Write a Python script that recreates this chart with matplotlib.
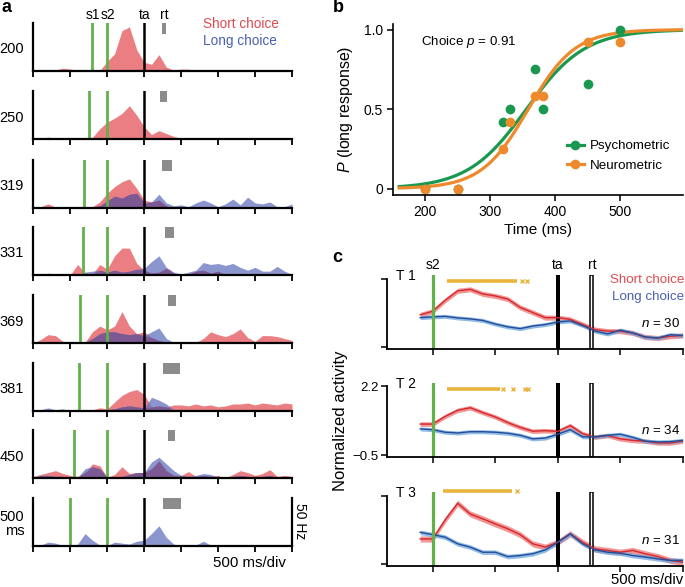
import numpy as np
import matplotlib
matplotlib.use('Agg')
import matplotlib.pyplot as plt
from matplotlib.lines import Line2D

plt.rcParams['font.family'] = ['Liberation Sans', 'DejaVu Sans']
plt.rcParams['mathtext.fontset'] = 'custom'
plt.rcParams['mathtext.rm'] = 'Liberation Sans'
plt.rcParams['mathtext.it'] = 'Liberation Sans:italic'

W, H = 685, 587

# ---------------- panel a: single-neuron PSTHs (Hz), s2 at 0 ms ----------------
t_a = np.arange(-1000, 2501, 100)
intervals = [200, 250, 319, 331, 369, 381, 450, 500]
rt_on = [735, 712, 735, 780, 816, 748, 824, 752]
rt_off = [802, 811, 870, 901, 928, 982, 911, 992]

short_200 = [0, 0, 0, 1, 3, 2, 1, 0, 0, 0.5, 10, 18, 42, 46, 22, 9, 7, 17, 4, 1,
             2, 2, 0, 0, 0, 0, 0, 0, 0, 0, 0, 0, 0, 0, 0, 0]
short_250 = [0, 0, 2.5, 0.5, 0, 0.5, 1.5, 0, 2, 11, 18, 22, 27, 35, 25, 13, 5, 9, 6, 3,
             1, 0.5, 0.5, 1, 0.5, 0, 0, 0, 0, 0, 0.5, 0, 0, 0, 0, 0]
short_319 = [0, 1, 4, 0.5, 0, 0, 0.5, 0.5, 1, 6, 15, 22, 27, 30, 20, 8, 6, 8, 2, 0,
             0, 0, 0, 0, 0, 0, 0, 0, 0, 0, 0, 0, 0, 0, 0, 0]
long_319 = [0, 0, 0, 0, 0.5, 1, 0, 0, 0.5, 2, 7, 12, 10, 14, 15, 5, 6, 14, 5, 2,
            3, 1, 5, 8, 5, 1, 4, 9, 3, 11, 5, 4, 6, 1, 1, 4]
short_331 = [0, 0, 2, 1, 0.5, 0, 11, 2, 1, 11, 6, 20, 28, 28, 12, 5, 2, 3, 7, 2,
             0.5, 1, 4, 5, 2, 4, 0, 0, 0, 0, 0, 0, 0, 0, 0, 0]
long_331 = [0, 0, 0, 0, 0, 0.5, 0, 3, 4, 5, 3, 5, 3, 4, 6, 7, 14, 20, 8, 3,
            1, 3, 5, 13, 11, 12, 10, 12, 8, 5, 8, 4, 4, 9, 4, 0.5]
short_369 = [0, 4, 9, 8, 2, 0.5, 0.5, 1, 12, 18, 14, 18, 33, 18, 10, 12, 6, 3, 1, 0.5,
             0.5, 0, 1, 5, 12, 9, 7, 10, 15, 6, 2, 8, 8, 7, 5, 3]
long_369 = [0, 0, 0, 0, 0, 0, 0, 1, 5, 10, 12, 12, 10, 9, 10, 8, 12, 16, 5, 1,
            0.5, 2, 0.5, 0, 0, 0, 0, 0, 0, 0, 0, 0, 0, 0, 0, 0]
short_381 = [0, 0, 0, 0, 0, 0, 0, 0, 1, 3, 2, 9, 16, 20, 22, 17, 4, 5, 4, 6,
             6, 5, 7, 5, 6, 4, 5, 7, 7, 8, 6, 8, 7, 6, 8, 7]
long_381 = [0, 1, 3, 1, 2, 0, 0, 0, 0, 0, 1, 2, 4, 5, 4, 3, 14, 11, 7, 1,
            0, 0, 0, 0, 0, 0, 0, 0, 0, 0, 0, 0, 0, 0, 0, 0]
short_450 = [2, 4, 6, 8, 5, 3, 2, 6, 15, 13, 1, 4, 12, 5, 6, 6, 10, 18, 8, 3,
             3, 7, 2, 3, 2, 3, 0.5, 4, 8, 6, 3, 5, 9, 2, 3, 2]
long_450 = [1, 3, 3, 2, 2, 0.5, 1, 10, 12, 10, 1, 1, 2, 4, 6, 6, 17, 22, 15, 8,
            3, 2, 3, 5, 4, 1, 1, 2, 3, 2, 1, 2, 3, 1, 0.5, 1]
long_500 = [0, 1, 4, 3, 0.5, 0, 2, 13, 6, 1, 0.5, 4, 3, 2, 5, 6, 13, 21, 9, 2,
            0.5, 1, 1, 5, 1, 0, 0, 0, 0, 0, 0, 0, 0, 0, 0, 0]

short_rows = [short_200, short_250, short_319, short_331, short_369, short_381, short_450, None]
long_rows = [None, None, long_319, long_331, long_369, long_381, long_450, long_500]

# ---------------- panel b: psychometric / neurometric ----------------
b_int = [200, 250, 319, 331, 369, 381, 450, 500]
psycho = [0, 0, 0.42, 0.5, 0.75, 0.5, 0.66, 1.0]
neuro = [0, 0, 0.25, 0.42, 0.58, 0.58, 0.92, 0.92]
psycho_fit = (355.6, 45.0)   # logistic midpoint, scale
neuro_fit = (358.5, 36.0)

# ---------------- panel c: population activity, s2 at 0 ms ----------------
t_c = np.arange(-100, 2001, 100)
c_short = [
    [0.78, 0.92, 1.35, 1.72, 1.78, 1.60, 1.52, 1.40, 1.07, 0.87, 0.67, 0.67,
     0.60, 0.40, 0.20, 0.14, 0.14, 0.07, -0.09, -0.13, -0.06, -0.03],
    [0.72, 0.72, 1.02, 1.26, 1.36, 1.17, 1.00, 0.78, 0.59, 0.44, 0.46, 0.43,
     0.66, 0.34, 0.21, 0.27, 0.14, 0.08, 0.05, -0.02, -0.02, 0.05],
    [0.50, 0.50, 1.25, 1.90, 1.48, 1.29, 1.09, 0.90, 0.67, 0.31, 0.18, 0.37,
     0.70, 0.37, 0.11, 0.05, -0.02, 0.05, -0.08, -0.19, -0.34, -0.41],
]
c_long = [
    [0.67, 0.70, 0.72, 0.66, 0.62, 0.56, 0.42, 0.31, 0.24, 0.34, 0.40, 0.50,
     0.54, 0.36, 0.14, 0.03, 0.18, 0.07, -0.09, -0.13, 0.0, -0.03],
    [0.53, 0.50, 0.40, 0.37, 0.42, 0.42, 0.40, 0.36, 0.28, 0.14, 0.17, 0.32,
     0.50, 0.22, 0.22, 0.28, 0.32, 0.20, 0.05, 0.02, 0.03, 0.08],
    [0.76, 0.67, 0.57, 0.31, 0.18, -0.02, -0.02, -0.19, -0.15, -0.08, 0.07, 0.37,
     0.70, 0.31, 0.07, -0.02, -0.06, -0.15, -0.21, -0.28, -0.34, -0.34],
]
c_sem_short = [0.10, 0.09, 0.12]
c_sem_long = [0.08, 0.08, 0.09]
c_n = [30, 34, 31]
sig_span = [(112, 672), (112, 539), (85, 632)]
sig_pts = [[712, 752], [565, 640, 739, 765], [672]]
sig_y = [2.12, 2.08, 2.4]

RED = '#e8676c'
BLUE = '#6473bf'
OVERLAP = '#7c5590'
RED_TXT = '#e04a50'
BLUE_TXT = '#4a5fb0'
GREEN_S = '#62b14a'


def add_ax(fig, left, top, right, bottom):
    return fig.add_axes([left / W, 1 - bottom / H, (right - left) / W, (bottom - top) / H])


def ptext(fig, x, y, s, **kw):
    fig.text(x / W, 1 - y / H, s, **kw)


def panel_a(fig):
    bases = [71, 139.3, 207.7, 275, 343.3, 410.7, 478.3, 546]
    for i, base in enumerate(bases):
        ax = add_ax(fig, 33.3, base - 48, 292, base)
        if short_rows[i] is not None:
            ax.fill_between(t_a, 0, short_rows[i], color=RED, alpha=0.85, lw=0)
        if long_rows[i] is not None:
            ax.fill_between(t_a, 0, long_rows[i], color=BLUE, alpha=0.75, lw=0)
        if short_rows[i] is not None and long_rows[i] is not None:
            # darker where both choices overlap
            both = np.minimum(short_rows[i], long_rows[i])
            ax.fill_between(t_a, 0, both, color=OVERLAP, alpha=0.85, lw=0)
        ax.axvline(-intervals[i], color=GREEN_S, lw=2)
        ax.axvline(0, color=GREEN_S, lw=2)
        ax.axvline(500, color='k', lw=1.8)
        ax.axvspan(rt_on[i], rt_off[i], ymin=0.77, ymax=1.0, color='#8c8c8c', lw=0)
        ax.set_xlim(-1000, 2500)
        ax.set_ylim(0, 50)
        ax.spines[['top', 'right']].set_visible(False)
        for s in ['left', 'bottom']:
            ax.spines[s].set_linewidth(1.6)
        ax.set_xticks(np.arange(-1000, 2501, 500))
        ax.set_yticks([])
        ax.tick_params(axis='x', direction='out', length=4.5, width=1.3, labelbottom=False)
        lab = '500\nms' if i == 7 else str(intervals[i])
        ax.text(-0.035, 0.45, lab, transform=ax.transAxes, ha='right', va='center',
                fontsize=10.5, linespacing=1.0)
        if i == 7:
            ax.plot([2500, 2500], [0, 50], color='k', lw=1.6, clip_on=False)

    ptext(fig, 92.5, 15, 's1', ha='center', va='center', fontsize=10)
    ptext(fig, 108, 15, 's2', ha='center', va='center', fontsize=10)
    ptext(fig, 145, 15, 'ta', ha='center', va='center', fontsize=10)
    ptext(fig, 164, 15, 'rt', ha='center', va='center', fontsize=10)
    ptext(fig, 203, 23.5, 'Short choice', color=RED_TXT, va='center', fontsize=9.8)
    ptext(fig, 203, 41, 'Long choice', color=BLUE_TXT, va='center', fontsize=9.8)
    ptext(fig, 300, 521, '50 Hz', rotation=270, ha='center', va='center', fontsize=10)
    ptext(fig, 286, 563, '500 ms/div', ha='right', va='center', fontsize=10.8)
    ptext(fig, 2, 8, 'a', fontweight='bold', va='center', fontsize=13)


def panel_b(fig):
    ax = add_ax(fig, 392.7, 24, 682.7, 195)
    tt = np.linspace(160, 595, 300)
    for fit, col in [(psycho_fit, '#1a9850'), (neuro_fit, '#ef8a2c')]:
        ax.plot(tt, 1 / (1 + np.exp(-(tt - fit[0]) / fit[1])), color=col, lw=2.3)
    ax.plot(b_int, psycho, 'o', color='#1a9850', ms=7, mec='none')
    ax.plot(b_int, neuro, 'o', color='#ef8a2c', ms=7, mec='none')
    ax.set_xlim(150, 596)
    ax.set_ylim(-0.04, 1.035)
    ax.set_xticks([200, 300, 400, 500])
    ax.set_yticks([0, 0.5, 1.0])
    ax.set_yticklabels(['0', '0.5', '1.0'])
    ax.spines[['top', 'right']].set_visible(False)
    for s in ['left', 'bottom']:
        ax.spines[s].set_linewidth(1.2)
    ax.tick_params(direction='out', length=4, width=1.1, labelsize=10, pad=3)
    ax.set_xlabel('Time (ms)', fontsize=11, labelpad=3)
    ax.set_ylabel('$P$ (long response)', fontsize=11.5, labelpad=6)
    ax.text(0.097, 0.895, 'Choice $p$ = 0.91', transform=ax.transAxes, fontsize=9.6,
            va='center')
    handles = [Line2D([0], [0], color='#1a9850', lw=2.3, marker='o', ms=7, mec='none'),
               Line2D([0], [0], color='#ef8a2c', lw=2.3, marker='o', ms=7, mec='none')]
    ax.legend(handles, ['Psychometric', 'Neurometric'], loc='center left',
              bbox_to_anchor=(0.6, 0.228), frameon=False, fontsize=9.6, handlelength=1.3,
              handletextpad=0.45, labelspacing=0.55, borderpad=0, borderaxespad=0)
    ptext(fig, 333, 8, 'b', fontweight='bold', va='center', fontsize=13)


def panel_c(fig):
    bottoms = [349, 456.7, 566]
    ylo, yhi = -0.56, 2.33
    hpx = (yhi - ylo) * 25.5
    for i, base in enumerate(bottoms):
        ax = add_ax(fig, 386.7, base - hpx, 682.7, base)
        ys = np.array(c_short[i])
        yl = np.array(c_long[i])
        ax.fill_between(t_c, ys - c_sem_short[i], ys + c_sem_short[i], color='#ee7b7b',
                        alpha=0.8, lw=0)
        ax.plot(t_c, ys, color='#d4282c', lw=1.0)
        ax.fill_between(t_c, yl - c_sem_long[i], yl + c_sem_long[i], color='#6aa5dc',
                        alpha=0.75, lw=0)
        ax.plot(t_c, yl, color='#234c9a', lw=1.0)
        ax.axvline(0, color=GREEN_S, lw=2.3)
        ax.axvspan(990, 1016, color='k', lw=0)
        ax.axvspan(1259, 1286, facecolor='white', edgecolor='k', lw=1.1)
        a, b = sig_span[i]
        ax.plot([a, b], [sig_y[i], sig_y[i]], color='#e9b43a', lw=2.6,
                solid_capstyle='butt', clip_on=False)
        ax.plot(sig_pts[i], [sig_y[i]] * len(sig_pts[i]), 'x', color='#e9b43a', ms=3,
                mew=1, clip_on=False)
        ax.set_xlim(-368, 2000)
        ax.set_ylim(ylo, yhi)
        ax.spines[['top', 'right']].set_visible(False)
        ax.spines['left'].set_bounds(ylo, 2.2)
        for s in ['left', 'bottom']:
            ax.spines[s].set_linewidth(1.3)
        ax.set_xticks([0, 500, 1000, 1500, 2000])
        ax.set_yticks([-0.5, 2.2])
        ax.tick_params(direction='out', length=4, width=1.1, labelbottom=False,
                       labelsize=9.5, pad=2)
        if i == 1:
            ax.set_yticklabels(['\u22120.5', '2.2'])
        else:
            ax.set_yticklabels([])
        ax.text(0.03, 0.99, 'T %d' % (i + 1), transform=ax.transAxes, fontsize=10,
                va='center')
        ax.text(0.99, 0.35, '$n$ = %d' % c_n[i], transform=ax.transAxes, fontsize=9.6,
                ha='right', va='center')

    ptext(fig, 433.5, 265, 's2', ha='center', va='center', fontsize=10)
    ptext(fig, 558, 265, 'ta', ha='center', va='center', fontsize=10)
    ptext(fig, 592, 265, 'rt', ha='center', va='center', fontsize=10)
    ptext(fig, 684, 280, 'Short choice', color=RED_TXT, ha='right', va='center', fontsize=9.6)
    ptext(fig, 684, 297, 'Long choice', color=BLUE_TXT, ha='right', va='center', fontsize=9.6)
    ptext(fig, 341, 421, 'Normalized activity', rotation=90, ha='center', va='center',
          fontsize=12)
    ptext(fig, 683, 580, '500 ms/div', ha='right', va='center', fontsize=10.7)
    ptext(fig, 332, 258, 'c', fontweight='bold', va='center', fontsize=13)


def main():
    fig = plt.figure(figsize=(W / 100, H / 100), dpi=100)
    panel_a(fig)
    panel_b(fig)
    panel_c(fig)
    fig.savefig('out.png', dpi=100)


if __name__ == '__main__':
    main()
